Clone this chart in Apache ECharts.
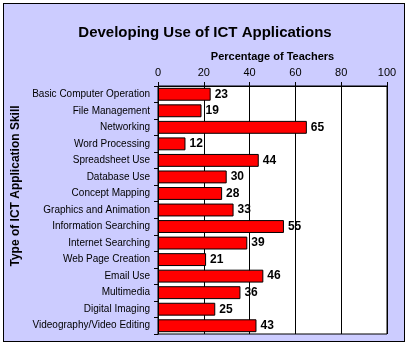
<!DOCTYPE html>
<html>
<head>
<meta charset="utf-8">
<script src="https://cdn.jsdelivr.net/npm/echarts@6/dist/echarts.min.js"></script>
<style>
  html, body { margin: 0; padding: 0; background: #fff; }
  #frame { position: absolute; left: 3px; top: 3px; width: 400px; height: 337px; border: 1px solid #000; background: #CCCCFF; }
  #chart { position: absolute; left: 0; top: 0; width: 410px; height: 349px; }
</style>
</head>
<body>
<div id="frame"></div>
<div id="chart"></div>
<script>
// ICT application skills and the share of teachers using each
const skills = [
  'Basic Computer Operation', 'File Management', 'Networking', 'Word Processing',
  'Spreadsheet Use', 'Database Use', 'Concept Mapping', 'Graphics and Animation',
  'Information Searching', 'Internet Searching', 'Web Page Creation', 'Email Use',
  'Multimedia', 'Digital Imaging', 'Videography/Video Editing'
];
const percentages = [23, 19, 65, 12, 44, 30, 28, 33, 55, 39, 21, 46, 36, 25, 43];
const xTicks = [0, 20, 40, 60, 80, 100];

const fontFamily = '"Liberation Sans", Arial, sans-serif';
const chart = echarts.init(document.getElementById('chart'), null, { renderer: 'canvas' });

chart.setOption({
  backgroundColor: 'transparent',
  animation: false,
  title: {
    text: 'Developing Use of ICT Applications',
    left: 'center',
    top: 20,
    textStyle: { fontFamily, fontSize: 15, fontWeight: 'bold', color: '#000' }
  },
  grid: {
    left: 158, right: 23, top: 86, bottom: 15,
    outerBoundsMode: 'none', containLabel: false,
    show: true, backgroundColor: '#fff', borderColor: '#000', borderWidth: 1
  },
  xAxis: {
    type: 'value',
    position: 'top',
    min: xTicks[0],
    max: xTicks[xTicks.length - 1],
    interval: 20,
    name: 'Percentage of Teachers',
    nameLocation: 'middle',
    nameGap: 24,
    nameTextStyle: { fontFamily, fontSize: 11, fontWeight: 'bold', color: '#000' },
    axisLine: { show: true, lineStyle: { color: '#000', width: 1 } },
    axisTick: { show: true, inside: false, length: 4, lineStyle: { color: '#000' } },
    axisLabel: { fontFamily, fontSize: 11, color: '#000', margin: 8 },
    splitLine: { show: true, lineStyle: { color: '#000', width: 1 } }
  },
  yAxis: {
    type: 'category',
    data: skills,
    inverse: true,
    name: 'Type of ICT Application Skill',
    nameLocation: 'middle',
    nameRotate: 90,
    nameGap: 126,
    nameTextStyle: { fontFamily, fontSize: 12, fontWeight: 'bold', color: '#000', padding: [0, 0, 0, 48] },
    axisLine: { show: true, lineStyle: { color: '#000', width: 1 } },
    axisTick: { show: true, length: 4, lineStyle: { color: '#000' } },
    axisLabel: { fontFamily, fontSize: 10, color: '#000', margin: 8 }
  },
  series: [{
    type: 'bar',
    data: percentages,
    barCategoryGap: '22%',
    itemStyle: { color: '#FF0000', borderColor: '#000', borderWidth: 1 },
    label: {
      show: true,
      position: 'right',
      distance: 4,
      fontFamily,
      fontSize: 12,
      fontWeight: 'bold',
      color: '#000'
    }
  }]
});
</script>
</body>
</html>
